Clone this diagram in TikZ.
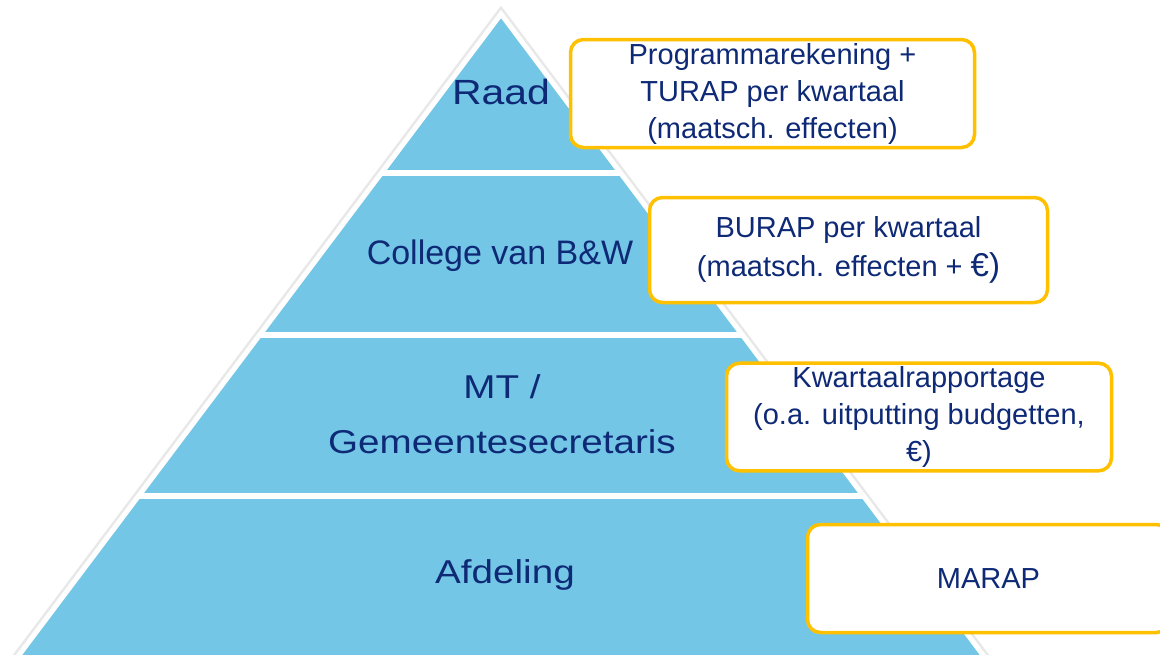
\documentclass[tikz,border=0pt]{standalone}
\usepackage{fontspec}
\setmainfont{Liberation Sans}
\newfontfamily\widesans[FakeStretch=1.17]{Liberation Sans}
\usepackage{tikz}
\usetikzlibrary{positioning, calc}
\definecolor{pyblue}{RGB}{115,198,229}
\definecolor{pynavy}{RGB}{14,42,118}
\definecolor{pyyellow}{RGB}{255,192,0}

\begin{document}
\begin{tikzpicture}[x=1pt,y=-1pt,
  level/.style={text=pynavy,font=\widesans\fontsize{33}{55}\selectfont,align=center,inner sep=0pt},
  report/.style={draw=pyyellow,line width=3.5pt,rounded corners=13pt,fill=white,text=pynavy,
    font=\fontsize{29}{37}\selectfont,align=center}]
\useasboundingbox (0,0) rectangle (1160,654);
% Pyramid
\begin{scope}
\clip (0,0) rectangle (1160,654);
\coordinate (apex) at (501,14);
\coordinate (left) at (0.2,680);
\coordinate (right) at (1001.8,680);
\draw[gray!18,line width=10pt] (left) -- (apex) -- (right);
\fill[pyblue] (apex) -- (right) -- (left) -- cycle;
\draw[white,line width=5pt] (left) -- (apex) -- (right);
\foreach \yy in {173,335,496}
  \draw[white,line width=6pt] ({501-0.752*(\yy-14)},\yy) -- ({501+0.752*(\yy-14)},\yy);
\end{scope}

% Levels
\node[level,font=\widesans\fontsize{35}{40}\selectfont,anchor=base] (raad) at (501,104) {Raad};
\node[level,font=\fontsize{34}{40}\selectfont,anchor=base] (college) at (500,264) {College van B\&W};
\node[level] (mt) at (502,414) {MT /\\Gemeentesecretaris};
\node[level,anchor=base] (afdeling) at (505,583) {Afdeling};

% Reports
\node[report,minimum width=404pt,minimum height=108pt] (turap) at (772.5,93.5)
  {Programmarekening +\\TURAP per kwartaal\\(maatsch. effecten)};
\node[report,minimum width=398pt,minimum height=105pt,font=\fontsize{29}{39}\selectfont] (burap) at (848.5,250)
  {BURAP per kwartaal\\(maatsch. effecten + {\fontsize{33}{39}\selectfont €)}};
\node[report,minimum width=385pt,minimum height=107pt] (kwartaal) at (919,417)
  {Kwartaalrapportage\\(o.a. uitputting budgetten,\\€)};
\node[report,minimum width=362pt,minimum height=108pt] (marap) at (988.5,578.5) {MARAP};
\end{tikzpicture}
\end{document}
